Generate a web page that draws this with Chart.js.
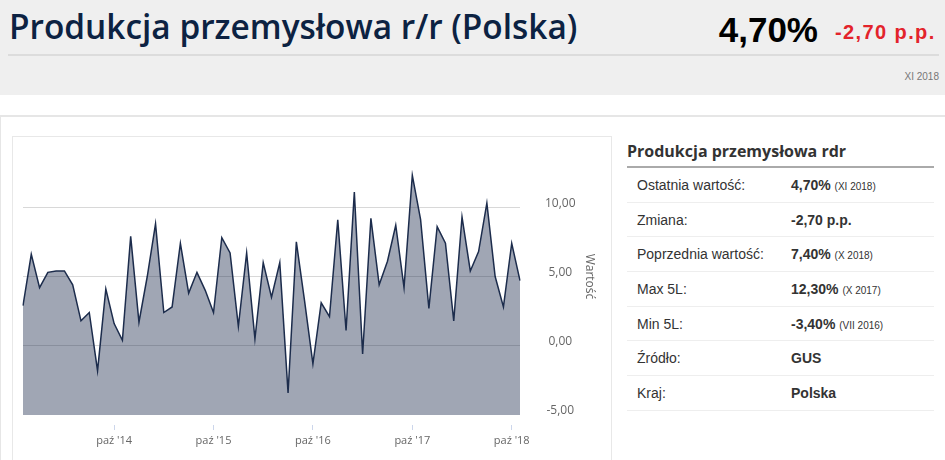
<!DOCTYPE html>
<html lang="pl">
<head>
<meta charset="utf-8">
<title>Produkcja przemysłowa r/r (Polska)</title>
<script src="https://cdn.jsdelivr.net/npm/chart.js@4.4.1/dist/chart.umd.min.js"></script>
<style>
  html, body { margin: 0; padding: 0; }
  body { width: 945px; height: 460px; overflow: hidden; position: relative; background: #fff; font-family: "Liberation Sans", Arial, sans-serif; }
  .naglowek { position: absolute; left: 0; top: 0; width: 945px; height: 95px; background: #efefef; }
  .naglowek h1 { position: absolute; left: 9px; top: 6px; margin: 0; font-family: "Open Sans", sans-serif; font-weight: 600; font-size: 33.4px; line-height: 40px; color: #0c2242; white-space: nowrap; }
  .wartosc { position: absolute; right: 127px; top: 12px; font-weight: bold; font-size: 35px; line-height: 35px; color: #000; }
  .zmiana { position: absolute; left: 835px; top: 22px; font-weight: bold; font-size: 20px; line-height: 20px; letter-spacing: 1.4px; color: #e3232b; white-space: nowrap; }
  .linia { position: absolute; left: 8px; top: 54px; width: 931px; height: 2px; background: #dcdcdc; }
  .data { position: absolute; right: 6px; top: 72px; font-size: 10px; line-height: 10px; color: #777; }
  .pasek { position: absolute; left: 0; top: 115px; width: 945px; height: 2px; background: #e6e6e6; }
  .panel { position: absolute; left: 0; top: 117px; width: 1px; height: 343px; background: #e6e6e6; }
  .ramka { position: absolute; left: 12px; top: 136px; width: 598px; height: 340px; border: 1px solid #e8e8e8; }
  .wykres { position: absolute; left: 14px; top: 138px; width: 597px; height: 322px; }
  .tabela { position: absolute; left: 627px; top: 137px; width: 307px; }
  .tabela h2 { margin: 0; font-family: "Open Sans", sans-serif; font-weight: bold; font-size: 16px; line-height: 29px; color: #333; border-bottom: 2px solid #aaa; }
  .wiersz { position: relative; height: 33.7px; border-bottom: 1px solid #eee; font-size: 14px; line-height: 34px; color: #333; }
  .wiersz .etyk { position: absolute; left: 10px; top: 0; }
  .wiersz .wart { position: absolute; left: 164px; top: 0; font-weight: bold; }
  .wiersz .okres { font-weight: normal; font-size: 10px; }
</style>
</head>
<body>
<div class="naglowek">
  <h1>Produkcja przemysłowa r/r (Polska)</h1>
  <div class="wartosc">4,70%</div>
  <div class="zmiana">-2,70 p.p.</div>
  <div class="linia"></div>
  <div class="data">XI 2018</div>
</div>
<div class="pasek"></div>
<div class="panel"></div>
<div class="ramka"></div>
<div class="wykres"><canvas id="wykres"></canvas></div>
<div class="tabela">
  <h2>Produkcja przemysłowa rdr</h2>
  <div class="wiersz"><span class="etyk">Ostatnia wartość:</span><span class="wart">4,70% <span class="okres">(XI 2018)</span></span></div>
  <div class="wiersz"><span class="etyk">Zmiana:</span><span class="wart">-2,70 p.p.</span></div>
  <div class="wiersz"><span class="etyk">Poprzednia wartość:</span><span class="wart">7,40% <span class="okres">(X 2018)</span></span></div>
  <div class="wiersz"><span class="etyk">Max 5L:</span><span class="wart">12,30% <span class="okres">(X 2017)</span></span></div>
  <div class="wiersz"><span class="etyk">Min 5L:</span><span class="wart">-3,40% <span class="okres">(VII 2016)</span></span></div>
  <div class="wiersz"><span class="etyk">Źródło:</span><span class="wart">GUS</span></div>
  <div class="wiersz"><span class="etyk">Kraj:</span><span class="wart">Polska</span></div>
</div>
<script>
// miesiace od XI 2013 do XI 2018
const miesiace = [
  "lis '13", "gru '13",
  "sty '14", "lut '14", "mar '14", "kwi '14", "maj '14", "cze '14", "lip '14", "sie '14", "wrz '14", "paź '14", "lis '14", "gru '14",
  "sty '15", "lut '15", "mar '15", "kwi '15", "maj '15", "cze '15", "lip '15", "sie '15", "wrz '15", "paź '15", "lis '15", "gru '15",
  "sty '16", "lut '16", "mar '16", "kwi '16", "maj '16", "cze '16", "lip '16", "sie '16", "wrz '16", "paź '16", "lis '16", "gru '16",
  "sty '17", "lut '17", "mar '17", "kwi '17", "maj '17", "cze '17", "lip '17", "sie '17", "wrz '17", "paź '17", "lis '17", "gru '17",
  "sty '18", "lut '18", "mar '18", "kwi '18", "maj '18", "cze '18", "lip '18", "sie '18", "wrz '18", "paź '18", "lis '18"
];

// produkcja przemyslowa r/r, %
const wartosci = [
  2.9, 6.6,
  4.2, 5.3, 5.4, 5.4, 4.4, 1.8, 2.4, -1.8, 4.1, 1.6, 0.4, 7.9,
  1.7, 5.0, 8.8, 2.4, 2.8, 7.4, 3.8, 5.3, 4.0, 2.4, 7.8, 6.7,
  1.4, 6.7, 0.5, 6.0, 3.5, 6.0, -3.4, 7.5, 3.2, -1.3, 3.1, 2.1,
  9.1, 1.1, 11.1, -0.6, 9.2, 4.4, 6.1, 8.7, 4.2, 12.3, 9.1, 2.7,
  8.6, 7.4, 1.8, 9.3, 5.4, 6.8, 10.3, 5.0, 2.8, 7.4, 4.7
];

// podzialka osi Y
const podzialkaY = [-5, 0, 5, 10, 15];

function formatuj(v) {
  return v.toFixed(2).replace(".", ",");
}

function rysujWykres() {
  const ctx = document.getElementById("wykres").getContext("2d");
  new Chart(ctx, {
    type: "line",
    data: {
      labels: miesiace,
      datasets: [
        {
          label: "Wartość",
          data: wartosci,
          borderColor: "#1c2c4c",
          borderWidth: 1.5,
          backgroundColor: "rgba(28, 44, 76, 0.42)",
          fill: "start",
          pointRadius: 0,
          tension: 0,
        },
      ],
    },
    options: {
      responsive: true,
      maintainAspectRatio: false,
      animation: false,
      layout: { padding: { left: 9, top: 0, right: 0, bottom: 0 } },
      plugins: {
        legend: { display: false },
        tooltip: { enabled: false },
      },
      scales: {
        x: {
          border: { display: false },
          grid: {
            drawOnChartArea: false,
            tickLength: 15,
            tickColor: "#ccd6eb",
            tickBorderDash: [5, 10],
            tickBorderDashOffset: 5,
          },
          ticks: {
            autoSkip: false,
            maxRotation: 0,
            padding: 4,
            color: "#666",
            font: { family: "'Open Sans', sans-serif", size: 11 },
          },
          afterBuildTicks: (scale) => {
            scale.ticks = scale.ticks.filter((t) => miesiace[t.value].startsWith("paź"));
          },
          afterFit: (scale) => {
            scale.height = 45;
            scale.paddingLeft = 0;
            scale.paddingRight = 0;
          },
        },
        y: {
          position: "right",
          min: -5,
          max: 15,
          border: { display: false },
          grid: {
            drawTicks: false,
            color: (c) => (c.tick && (c.tick.value === 15 || c.tick.value === -5) ? "rgba(0,0,0,0)" : "#d8d8d8"),
          },
          ticks: {
            crossAlign: "center",
            padding: 25,
            labelOffset: -4,
            color: "#666",
            font: { family: "'Open Sans', sans-serif", size: 12 },
            callback: (v) => (v === 15 ? "" : formatuj(v)),
          },
          afterBuildTicks: (scale) => {
            scale.ticks = podzialkaY.map((v) => ({ value: v }));
          },
          title: {
            display: true,
            text: "Wartość",
            color: "#666",
            font: { family: "'Open Sans', sans-serif", size: 12 },
            padding: { top: 14.5, bottom: 0 },
          },
          afterFit: (scale) => {
            scale.width = 91;
            scale.paddingTop = 0;
            scale.paddingBottom = 0;
          },
        },
      },
    },
  });
}

document.addEventListener("DOMContentLoaded", () => {
  rysujWykres();
});
</script>
</body>
</html>
